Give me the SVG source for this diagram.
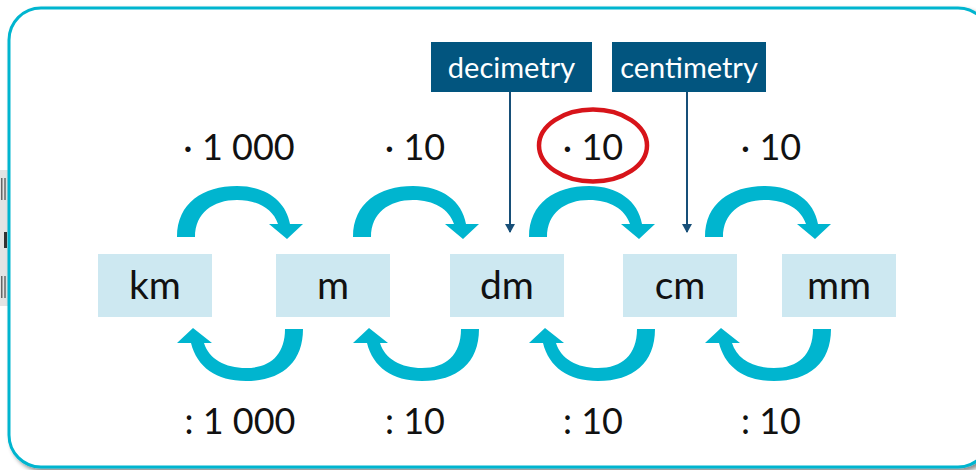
<svg xmlns="http://www.w3.org/2000/svg" width="976" height="470" viewBox="0 0 976 470">
<defs>
<style>
.unit{fill:#cde8f1}
.ut{font-family:Lato,"Liberation Sans",sans-serif;font-size:39px;fill:#111;text-anchor:middle}
.op{font-family:Lato,"Liberation Sans",sans-serif;font-size:36px;fill:#111;text-anchor:middle}
.lab{fill:#02557f}
.lt{font-family:Lato,"Liberation Sans",sans-serif;font-size:29px;fill:#fff;text-anchor:middle}
.arr{fill:#00b5cf}
.ptr{stroke:#174f78;stroke-width:2;fill:none}
</style>
<filter id="sh" x="-5%" y="-5%" width="110%" height="110%">
<feDropShadow dx="3" dy="3" stdDeviation="2" flood-color="#000" flood-opacity="0.45"/>
</filter>
<path id="up" d="M177,237 C177,203 203,186 237,186 C266,186 286,201 290,224 L303,224 L287,239 L269,224 L278,224 C273,209 258,200 237,200 C213,200 195,213 195,237 Z"/>
<path id="down" d="M303,329 C303,363 281,381 246,381 C216,381 197,367 191,343 L177,343 L193,328 L212,343 L204,343 C209,359 225,368 246,368 C270,368 285,355 285,329 Z"/>
</defs>
<rect width="976" height="470" fill="#fff"/>
<g id="edge">
<rect x="0" y="170" width="8" height="136" fill="#e4e4e4"/>
<rect x="1" y="178" width="1.5" height="22" fill="#666"/>
<rect x="4" y="178" width="2" height="22" fill="#888"/>
<rect x="4" y="232" width="3" height="16" fill="#333"/>
<rect x="1" y="276" width="1.5" height="22" fill="#666"/>
<rect x="4" y="276" width="2" height="22" fill="#888"/>
</g>
<rect id="frame" x="9" y="8" width="981" height="459" rx="32" fill="#fff" stroke="#00b5cf" stroke-width="3" filter="url(#sh)"/>
<g id="connectors">
<use href="#up" class="arr"/>
<use href="#up" class="arr" transform="translate(176,0)"/>
<use href="#up" class="arr" transform="translate(352,0)"/>
<use href="#up" class="arr" transform="translate(528,0)"/>
<use href="#down" class="arr"/>
<use href="#down" class="arr" transform="translate(176,0)"/>
<use href="#down" class="arr" transform="translate(352,0)"/>
<use href="#down" class="arr" transform="translate(528,0)"/>
<line class="ptr" x1="510" y1="92" x2="510" y2="232"/>
<path d="M505,224 L510,233 L515,224 Z" fill="#174f78"/>
<line class="ptr" x1="687" y1="92" x2="687" y2="232"/>
<path d="M682,224 L687,233 L692,224 Z" fill="#174f78"/>
</g>
<g id="km"><rect class="unit" x="98" y="254" width="114" height="63"/><text class="ut" x="155" y="299">km</text></g>
<g id="m"><rect class="unit" x="276" y="254" width="114" height="63"/><text class="ut" x="333" y="299">m</text></g>
<g id="dm"><rect class="unit" x="450" y="254" width="114" height="63"/><text class="ut" x="507" y="299">dm</text></g>
<g id="cm"><rect class="unit" x="623" y="254" width="114" height="63"/><text class="ut" x="680" y="299">cm</text></g>
<g id="mm"><rect class="unit" x="782" y="254" width="114" height="63"/><text class="ut" x="839" y="299">mm</text></g>
<g id="decimetry"><rect class="lab" x="431" y="42" width="161" height="50"/><text class="lt" x="511.5" y="78">decimetry</text></g>
<g id="centimetry"><rect class="lab" x="612" y="42" width="154" height="50"/><text class="lt" x="689" y="78">centimetry</text></g>
<g id="labels">
<text class="op" x="239" y="160">· 1 000</text>
<text class="op" x="415" y="160">· 10</text>
<text class="op" x="593" y="160">· 10</text>
<text class="op" x="771" y="160">· 10</text>
<text class="op" x="240" y="434">: 1 000</text>
<text class="op" x="415" y="434">: 10</text>
<text class="op" x="593" y="434">: 10</text>
<text class="op" x="771" y="434">: 10</text>
</g>
<ellipse id="highlight" cx="593" cy="145.5" rx="54" ry="36" fill="none" stroke="#d7141a" stroke-width="4.5"/>
</svg>
